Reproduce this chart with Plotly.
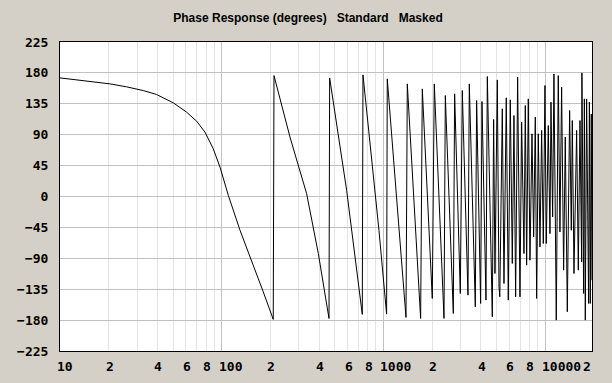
import math
import plotly.graph_objects as go

# ---- data ----
freq_hz = [
    10, 12.7, 16.1, 20.4, 25.8, 32.7, 39.6, 50.2, 60.7, 70.0, 78.8, 88.7, 97.6,
    109.9, 129.8, 153.1, 180.7, 208.4,
    210.6, 264.5, 335.3, 396, 461,
    465.3, 592.7, 740.6,
    747.8, 939, 1047,
    1057, 1380, 1406, 1700, 1741, 2007, 2065, 2371, 2416, 2707, 2759, 2991,
    3077, 3336, 3400, 3703, 3774, 3995, 4072, 4311, 4394, 4718,
    4808, 4900, 5065, 5187, 5250, 5440, 5570, 5756, 5923, 6095, 6271, 6422,
    6577, 6767, 6995, 7164, 7405, 7547, 7692, 7877, 8066, 8299, 8498, 8702,
    8870, 9083, 9301, 9524, 9752, 9986, 10177, 10471, 10722, 10877, 11138,
    11350, 11733, 12071, 12361, 12658, 13025, 13337, 13728, 14191, 14532,
    14740, 15095, 15677, 16054, 16440, 16834, 16900, 17322, 17500, 17737,
    18073, 18596, 18800, 19041, 19315, 19500,
]
phase_deg = [
    172.7, 169.8, 167.4, 164.0, 159.7, 154.3, 148.5, 136.4, 122.8, 109.7, 93.8, 69.5, 42.9,
    1.7, -49.2, -92.8, -138.8, -179.0,
    176.1, 86.5, 4.1, -83.1, -177.6,
    172.7, 9.0, -171.7,
    177.1, -49.2, -171.3,
    171.3, -176.1, 164.0, -177.6, 156.7, -148.5, 164.0, -177.6, 147.0, -170.3, 149.5, -141.2,
    154.3, -143.6, 164.0, -160.6, 139.8, -155.8, 138.3, -150.9, 174.7, -175.1,
    112.2, -112.2, 169.8, -131.5, -146.1, 127.7, -126.7, 143.7, -150.9, 140.8, -97.6, 118.0,
    -146.1, 173.7, -146.1, 108.3, -83.1, 132.5, -100.0, 142.2, -92.8, 91.3, -58.9, 115.6,
    -148.5, 91.3, -73.4, 96.2, -68.5, 161.6, -68.5, 103.4, -54.0, 137.4, -29.8,
    178.5, -180.0, 176.1, -51.6, 159.2, -107.3, 86.5, -167.9, 125.3, -49.2,
    110.7, -112.2, 96.2, -107.3, 110.7, -95.2, 180.0, -141.2, 142.2, -180.0,
    142.2, -155.8, 137.4, -155.8, 120.0, -121.8,
]

y_ticks = [225, 180, 135, 90, 45, 0, -45, -90, -135, -180, -225]
x_major = [10, 100, 1000, 10000]
x_minor = [m * d for d in (10, 100, 1000) for m in range(2, 10)] + [20000]
x_label_vals = [10, 20, 40, 60, 80, 100, 200, 400, 600, 800,
                1000, 2000, 4000, 6000, 8000, 10000, 20000]
x_label_text = ["10", "2", "4", "6", "8", "100", "2", "4", "6", "8",
                "1000", "2", "4", "6", "8", "10000", "2"]

X_RANGE = [1, 4.2903]  # log10 of 10 Hz .. ~19.5 kHz (plot edge)

title_text = "Phase Response (degrees)\u00a0\u00a0\u00a0Standard\u00a0\u00a0\u00a0Masked"

MONO = dict(family="DejaVu Sans Mono", size=13, color="#000000", weight="bold")

fig = go.Figure()
fig.add_trace(go.Scatter(
    x=freq_hz, y=phase_deg, mode="lines",
    line=dict(color="#000000", width=1),
    hoverinfo="skip", showlegend=False,
))

annotations = []
for v, t in zip(x_label_vals, x_label_text):
    last = v == x_label_vals[-1]
    annotations.append(dict(
        x=min(math.log10(v), X_RANGE[1]), y=0, xref="x", yref="paper",
        text=t, showarrow=False, font=MONO,
        xanchor="right" if last else "left",
        xshift=1 if last else -5,
        yanchor="middle", yshift=-15.5,
    ))

fig.update_layout(
    width=612, height=383,
    margin=dict(l=60, r=20, t=42, b=32),
    paper_bgcolor="#d4d0c8",
    plot_bgcolor="#ffffff",
    title=dict(
        text=title_text, x=308 / 612, xref="container", xanchor="center",
        y=1 - 17.6 / 383, yref="container", yanchor="middle",
        font=dict(family="Liberation Sans", size=12, color="#000000", weight="bold"),
    ),
    xaxis=dict(
        type="log", range=X_RANGE,
        tickvals=x_major, showticklabels=False, ticks="",
        showgrid=True, gridcolor="#c0c0c0", gridwidth=1,
        minor=dict(tickvals=x_minor, showgrid=True, gridcolor="#e4e4e4", ticks=""),
        showline=True, linecolor="#000000", linewidth=1, mirror=True,
        zeroline=False, fixedrange=True,
    ),
    yaxis=dict(
        range=[-225, 225], tickvals=y_ticks, ticktext=[str(v).replace("-", "\u2212") for v in y_ticks],
        ticks="", ticklabelstandoff=8, tickfont=MONO,
        showgrid=True, gridcolor="#c0c0c0", gridwidth=1,
        showline=True, linecolor="#000000", linewidth=1, mirror=True,
        zeroline=False, fixedrange=True,
    ),
    annotations=annotations,
)

fig.write_html(
    "out.html",
    config={"displayModeBar": False},
    post_script="document.body.style.margin='0';document.body.style.background='#d4d0c8';",
)
